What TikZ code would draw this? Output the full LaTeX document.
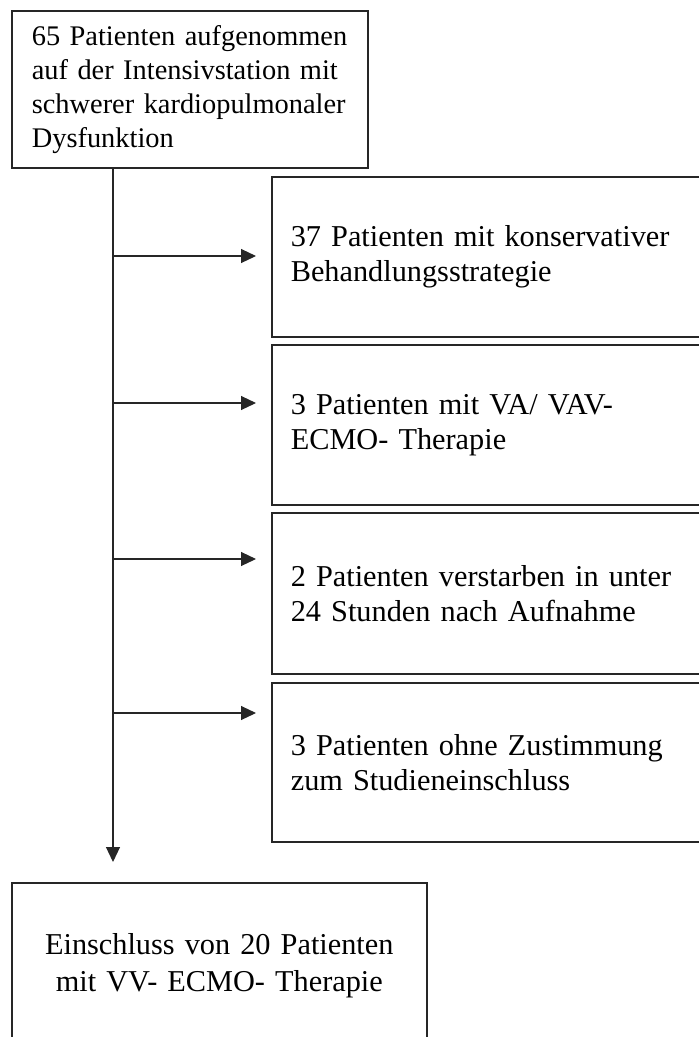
\documentclass[tikz,border=0pt]{standalone}
\usepackage{fontspec}
\setmainfont{Liberation Serif}
\usetikzlibrary{arrows.meta,calc}
\begin{document}
\begin{tikzpicture}[x=1pt,y=-1pt,
  boxline/.style={draw=black!85, line width=1.6pt, rectangle, inner ysep=0pt},
  bigtext/.style={font=\fontsize{30.3}{35}\selectfont},
  bottext/.style={font=\fontsize{30.3}{37}\selectfont},
  smalltext/.style={font=\fontsize{28.4}{34}\selectfont},
  conn/.style={draw=black!85, line width=1.1pt},
  arr/.style={conn, -{Triangle[length=15pt,width=14pt]}}]
\useasboundingbox (0,0) rectangle (699,1037);
\clip (0,0) rectangle (699,1037);
% top box
\node[boxline, smalltext, anchor=north west, minimum width=356pt, minimum height=157pt,
      text width=316pt, inner xsep=20pt, align=left] (top) at (11,10)
  {65 Patienten aufgenommen\\auf der Intensivstation mit\\schwerer kardiopulmonaler\\Dysfunktion};
% right boxes
\node[boxline, bigtext, anchor=north west, minimum width=439pt, minimum height=160pt,
      text width=401pt, inner xsep=19pt, align=left] (b1) at (271,176)
  {37 Patienten mit konservativer\\Behandlungsstrategie};
\node[boxline, bigtext, anchor=north west, minimum width=439pt, minimum height=160pt,
      text width=401pt, inner xsep=19pt, align=left] (b2) at (271,344)
  {3 Patienten mit VA/ VAV-\\ECMO- Therapie};
\node[boxline, bigtext, anchor=north west, minimum width=439pt, minimum height=161pt,
      text width=401pt, inner xsep=19pt, align=left] (b3) at (271,512)
  {2 Patienten verstarben in unter\\24 Stunden nach Aufnahme};
\node[boxline, bigtext, anchor=north west, minimum width=439pt, minimum height=159pt,
      text width=401pt, inner xsep=19pt, align=left] (b4) at (271,682)
  {3 Patienten ohne Zustimmung\\zum Studieneinschluss};
% bottom box
\node[boxline, bottext, anchor=north west, minimum width=415pt, minimum height=166pt,
      text width=395pt, inner xsep=10pt, align=center] (bot) at (11,882)
  {Einschluss von 20 Patienten\\mit VV- ECMO- Therapie};
% trunk
\coordinate (t0) at (113,167);
\coordinate (a1) at (113,256);
\coordinate (a2) at (113,403);
\coordinate (a3) at (113,559);
\coordinate (a4) at (113,713);
\draw[arr, shorten >=20pt] (top.south -| t0) -- (bot.north -| t0);
\draw[arr, shorten >=15pt] (a1) -- (a1 -| b1.west);
\draw[arr, shorten >=15pt] (a2) -- (a2 -| b2.west);
\draw[arr, shorten >=15pt] (a3) -- (a3 -| b3.west);
\draw[arr, shorten >=15pt] (a4) -- (a4 -| b4.west);
\end{tikzpicture}
\end{document}
